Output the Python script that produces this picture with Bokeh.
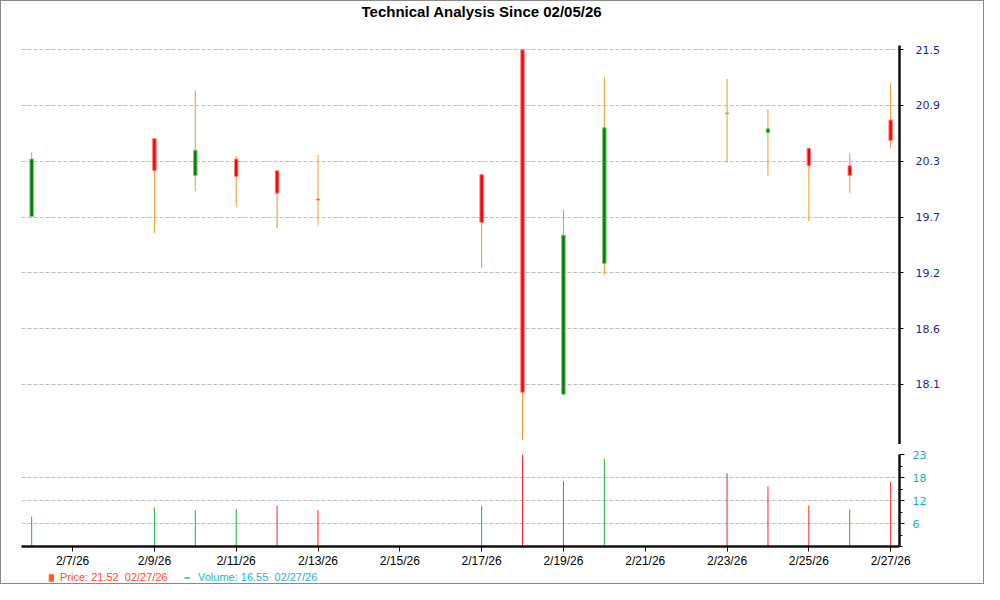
import pandas as pd
from bokeh.plotting import figure
from bokeh.models import Range1d, FixedTicker, ColumnDataSource, Legend, LegendItem, Label
from bokeh.layouts import column
from bokeh.embed import file_html
from bokeh.resources import INLINE

# ---------------- data ----------------
title_text = "Technical Analysis Since 02/05/26"
dates = ["2026-02-06", "2026-02-09", "2026-02-10", "2026-02-11", "2026-02-12",
         "2026-02-13", "2026-02-17", "2026-02-18", "2026-02-19", "2026-02-20",
         "2026-02-23", "2026-02-24", "2026-02-25", "2026-02-26", "2026-02-27"]
open_ = [19.81, 20.61, 20.23, 20.40, 20.28, 19.99, 20.24, 21.52, 17.99, 19.33,
         20.865, 20.67, 20.51, 20.33, 20.80]
high = [20.47, 20.61, 21.10, 20.43, 20.28, 20.44, 20.24, 21.52, 19.88, 21.24,
        21.22, 20.91, 20.51, 20.46, 21.18]
low = [19.81, 19.64, 20.07, 19.91, 19.69, 19.72, 19.28, 17.52, 17.99, 19.21,
       20.36, 20.23, 19.76, 20.05, 20.51]
close = [20.40, 20.28, 20.49, 20.22, 20.05, 19.98, 19.75, 18.01, 19.62, 20.72,
         20.87, 20.71, 20.33, 20.23, 20.59]
volume = [7.6, 10.05, 9.3, 9.6, 10.5, 9.3, 10.5, 23.5, 16.8, 22.5,
          18.8, 15.4, 10.5, 9.5, 16.55]
volume_dir = ["up", "up", "up", "up", "down", "down", "up", "down", "up", "up",
              "down", "down", "down", "up", "down"]

price_ticks = [21.52, 20.9486, 20.3771, 19.8057, 19.2343, 18.6629, 18.0914]
price_tick_labels = ["21.5", "20.9", "20.3", "19.7", "19.2", "18.6", "18.1"]
volume_ticks = [5.875, 11.75, 17.625, 23.5]
volume_tick_labels = ["6", "12", "18", "23"]
volume_minor_ticks = [0.0, 2.9375, 8.8125, 14.6875, 20.5625]
x_tick_dates = ["2026-02-07", "2026-02-09", "2026-02-11", "2026-02-13", "2026-02-15",
                "2026-02-17", "2026-02-19", "2026-02-21", "2026-02-23", "2026-02-25",
                "2026-02-27"]
x_tick_labels = ["2/7/26", "2/9/26", "2/11/26", "2/13/26", "2/15/26", "2/17/26",
                 "2/19/26", "2/21/26", "2/23/26", "2/25/26", "2/27/26"]
legend_price = "Price: 21.52  02/27/26"
legend_volume = "Volume: 16.55  02/27/26"

# ---------------- styles ----------------
RED = "#FF0000"
GREEN = "#008000"
WICK = "#F0962E"
VOL_UP = "#1DB03C"
VOL_DOWN = "#FF2020"
GRID = "#BEBEBE"
PRICE_LBL = "#1E1EA8"
VOL_LBL = "#1AAFB0"
LEG_PRICE = "#FF4A2A"
LEG_VOL = "#22B4C4"
W = 982
BL, BR = 20, 84
FW = W - BL - BR  # frame width shared by all rows


def strip(h):
    """A row figure whose frame coordinates are plain pixels (title / legend rows)."""
    f = figure(width=W, height=h, x_range=Range1d(0, FW), y_range=Range1d(0, h),
               x_axis_location=None, y_axis_location=None,
               output_backend="svg", toolbar_location=None,
               min_border_left=BL, min_border_right=BR, min_border_top=0,
               min_border_bottom=0, outline_line_color=None,
               background_fill_color="white", border_fill_color="white")
    f.grid.visible = False
    return f


x = pd.to_datetime(dates)
is_up = [c >= o for o, c in zip(open_, close)]
src = ColumnDataSource(dict(
    x=x, open=open_, high=high, low=low, close=close,
    top=[max(o, c) for o, c in zip(open_, close)],
    bottom=[min(o, c) for o, c in zip(open_, close)],
    fill=[GREEN if u else RED for u in is_up],
    edge=["#7CC47C" if u else "#FF8080" for u in is_up],
    volume=volume,
    vcol=[VOL_UP if d == "up" else VOL_DOWN for d in volume_dir],
    zero=[0] * len(volume),
))

day = pd.Timedelta(days=1)
x_start = pd.Timestamp("2026-02-07") - 1.249 * day
x_end = pd.Timestamp("2026-02-27") + 0.216 * day
xr = Range1d(start=x_start.to_pydatetime(), end=x_end.to_pydatetime())
body_w = 0.085 * 86400000

# ---------------- title row ----------------
p0 = strip(20)
p0.add_layout(Label(x=340, y=10, text=title_text, text_align="left",
                    text_baseline="middle", text_font="Liberation Sans",
                    text_font_size="15px", text_font_style="bold", text_color="black"))

# ---------------- price panel ----------------
p1 = figure(width=W, height=423, x_range=xr, y_range=Range1d(17.475, 21.563),
            x_axis_type="datetime", x_axis_location=None, y_axis_location="right",
            output_backend="svg", toolbar_location=None,
            min_border_left=BL, min_border_right=BR, min_border_top=24,
            min_border_bottom=0, outline_line_color=None,
            background_fill_color="white", border_fill_color="white")

p1.segment(x0="x", y0="low", x1="x", y1="high", source=src, line_color=WICK, line_width=1)
p1.vbar(x="x", top="top", bottom="bottom", width=body_w, source=src,
        fill_color="fill", line_color="edge", line_width=1)

ya = p1.yaxis[0]
ya.ticker = FixedTicker(ticks=price_ticks, minor_ticks=[])
ya.major_label_overrides = dict(zip(price_ticks, price_tick_labels))
ya.axis_line_width = 2.5
ya.axis_line_color = "#111111"
ya.major_tick_out = 4
ya.major_tick_in = 0
ya.major_tick_line_color = "#111111"
ya.minor_tick_out = 0
ya.major_label_standoff = 12
ya.major_label_text_font = "DejaVu Sans"
ya.major_label_text_font_size = "11px"
ya.major_label_text_color = PRICE_LBL
p1.xgrid.visible = False
p1.ygrid.ticker = FixedTicker(ticks=price_ticks)
p1.ygrid.grid_line_color = GRID
p1.ygrid.grid_line_dash = "4 2"
p1.ygrid.grid_line_width = 1

# ---------------- volume panel ----------------
p2 = figure(width=W, height=126, x_range=xr, y_range=Range1d(0, 25.38),
            x_axis_type="datetime", y_axis_location="right",
            output_backend="svg", toolbar_location=None,
            min_border_left=BL, min_border_right=BR, min_border_top=3,
            min_border_bottom=21, outline_line_color=None,
            background_fill_color="white", border_fill_color="white")
p2.segment(x0="x", y0="zero", x1="x", y1="volume", source=src, line_color="vcol", line_width=1)

va = p2.yaxis[0]
va.ticker = FixedTicker(ticks=volume_ticks, minor_ticks=volume_minor_ticks)
va.major_label_overrides = dict(zip(volume_ticks, volume_tick_labels))
va.bounds = (0, volume_ticks[-1])
va.axis_line_width = 2.5
va.axis_line_color = "#111111"
va.major_tick_out = 5
va.major_tick_in = 0
va.minor_tick_out = 3
va.minor_tick_in = 0
va.major_label_standoff = 8
va.major_label_text_font = "DejaVu Sans"
va.major_label_text_font_size = "11px"
va.major_label_text_color = VOL_LBL

tick_ms = [int(pd.Timestamp(d).value // 10**6) for d in x_tick_dates]
xa = p2.xaxis[0]
xa.ticker = FixedTicker(ticks=tick_ms, minor_ticks=[])
xa.major_label_overrides = dict(zip(tick_ms, x_tick_labels))
xa.axis_line_width = 2.5
xa.axis_line_color = "#111111"
xa.major_tick_out = 5
xa.major_tick_in = 0
xa.minor_tick_out = 0
xa.major_label_standoff = 2
xa.major_label_text_font = "Liberation Sans"
xa.major_label_text_font_size = "12px"
xa.major_label_text_color = "black"
p2.xgrid.visible = False
p2.ygrid.ticker = FixedTicker(ticks=volume_ticks[:-1])
p2.ygrid.grid_line_color = GRID
p2.ygrid.grid_line_dash = "4 2"

# ---------------- legend row ----------------
p3 = strip(13)
# legend-only renderers, placed outside the visible range of this strip
dp = p3.vbar(x=[-100], top=[-100], bottom=[-200], width=1,
             fill_color="#FF5522", line_color="#FF7755")
dv = p3.segment(x0=[-200], y0=[-100], x1=[-100], y1=[-100],
                line_color=LEG_VOL, line_width=1.5)
for rend, lab, col, loc, gw, so in [(dp, legend_price, LEG_PRICE, (27, 0), 6, 6),
                                     (dv, legend_volume, LEG_VOL, (163, 0), 6, 8)]:
    lg = Legend(items=[LegendItem(label=lab, renderers=[rend])], location=loc,
                orientation="horizontal", padding=0, margin=0, spacing=0,
                glyph_width=gw, glyph_height=9, label_height=12, label_standoff=so,
                border_line_color=None, background_fill_alpha=0,
                label_text_font="Liberation Sans", label_text_font_size="11px",
                label_text_color=col)
    p3.add_layout(lg, "center")

layout = column(p0, p1, p2, p3, spacing=0, styles={"border": "1px solid #8a8a8a"})
open("out.html", "w").write(file_html(layout, INLINE))
